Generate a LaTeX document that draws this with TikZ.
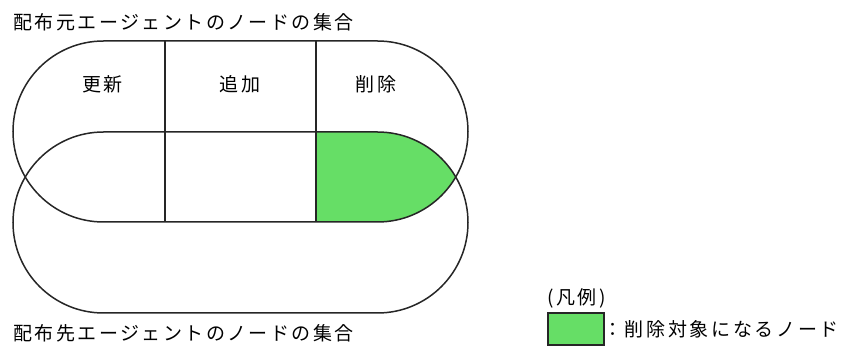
\documentclass[tikz,border=0pt]{standalone}
\usepackage{fontspec}
\newfontfamily\jpfont[LetterSpace=13]{Noto Sans CJK JP}
\newfontfamily\jpwide[LetterSpace=14]{Noto Sans CJK JP}
\definecolor{linecolor}{rgb}{0.15,0.15,0.15}
\definecolor{delcolor}{RGB}{102,222,102}
\usetikzlibrary{positioning}
\tikzset{
	setline/.style={
		draw=linecolor,
		line width=1.5pt,
		rounded corners=90.5pt
	},
	divider/.style={
		draw=linecolor,
		line width=1.5pt
	},
	settitle/.style={
		anchor=west,
		inner sep=0pt,
		font=\jpfont\fontsize{19}{22}\selectfont
	},
	opname/.style={
		inner sep=0pt,
		font=\jpfont\fontsize{19}{22}\selectfont
	},
	legtext/.style={
		anchor=east,
		inner sep=0pt,
		font=\jpwide\fontsize{19}{22}\selectfont
	},
	legbox/.style={
		rectangle,
		draw=linecolor,
		line width=1.5pt,
		fill=delcolor,
		minimum width=56pt,
		minimum height=32pt,
		inner sep=0pt
	},
}

\begin{document}
\begin{tikzpicture}[x=1pt,y=-1pt]
			\useasboundingbox (0,0) rectangle (841,347);
			% nodes to delete
			\begin{scope}
				\clip[rounded corners=90.5pt] (13,41) rectangle (468,222);
				\clip[rounded corners=90.5pt] (13,132) rectangle (468,313);
				\fill[delcolor] (316,30) rectangle (480,320);
			\end{scope}
			\draw[setline] (13,41) rectangle (468,222);
			\draw[setline] (13,132) rectangle (468,313);
			\coordinate (d1) at (165,41);
			\coordinate (d2) at (316,41);
			\draw[divider] (d1) -- ++(0,181);
			\draw[divider] (d2) -- ++(0,181);
			\node[settitle] (src) at (13,22) {配布元エージェントのノードの集合};
			\node[settitle] (dst) at (13,333) {配布先エージェントのノードの集合};
			\node[opname] (upd) at (102.5,84) {更新};
			\node[opname] (add) at (240,84) {追加};
			\node[opname] (del) at (376,84) {削除};
			% legend
			\node[settitle] (leg) at (547,298) {(凡例)};
			\node[legbox] (box) at (576,329) {};
			\node[legtext] (legdesc) at (839,329) {：削除対象になるノード};
\end{tikzpicture}
\end{document}
